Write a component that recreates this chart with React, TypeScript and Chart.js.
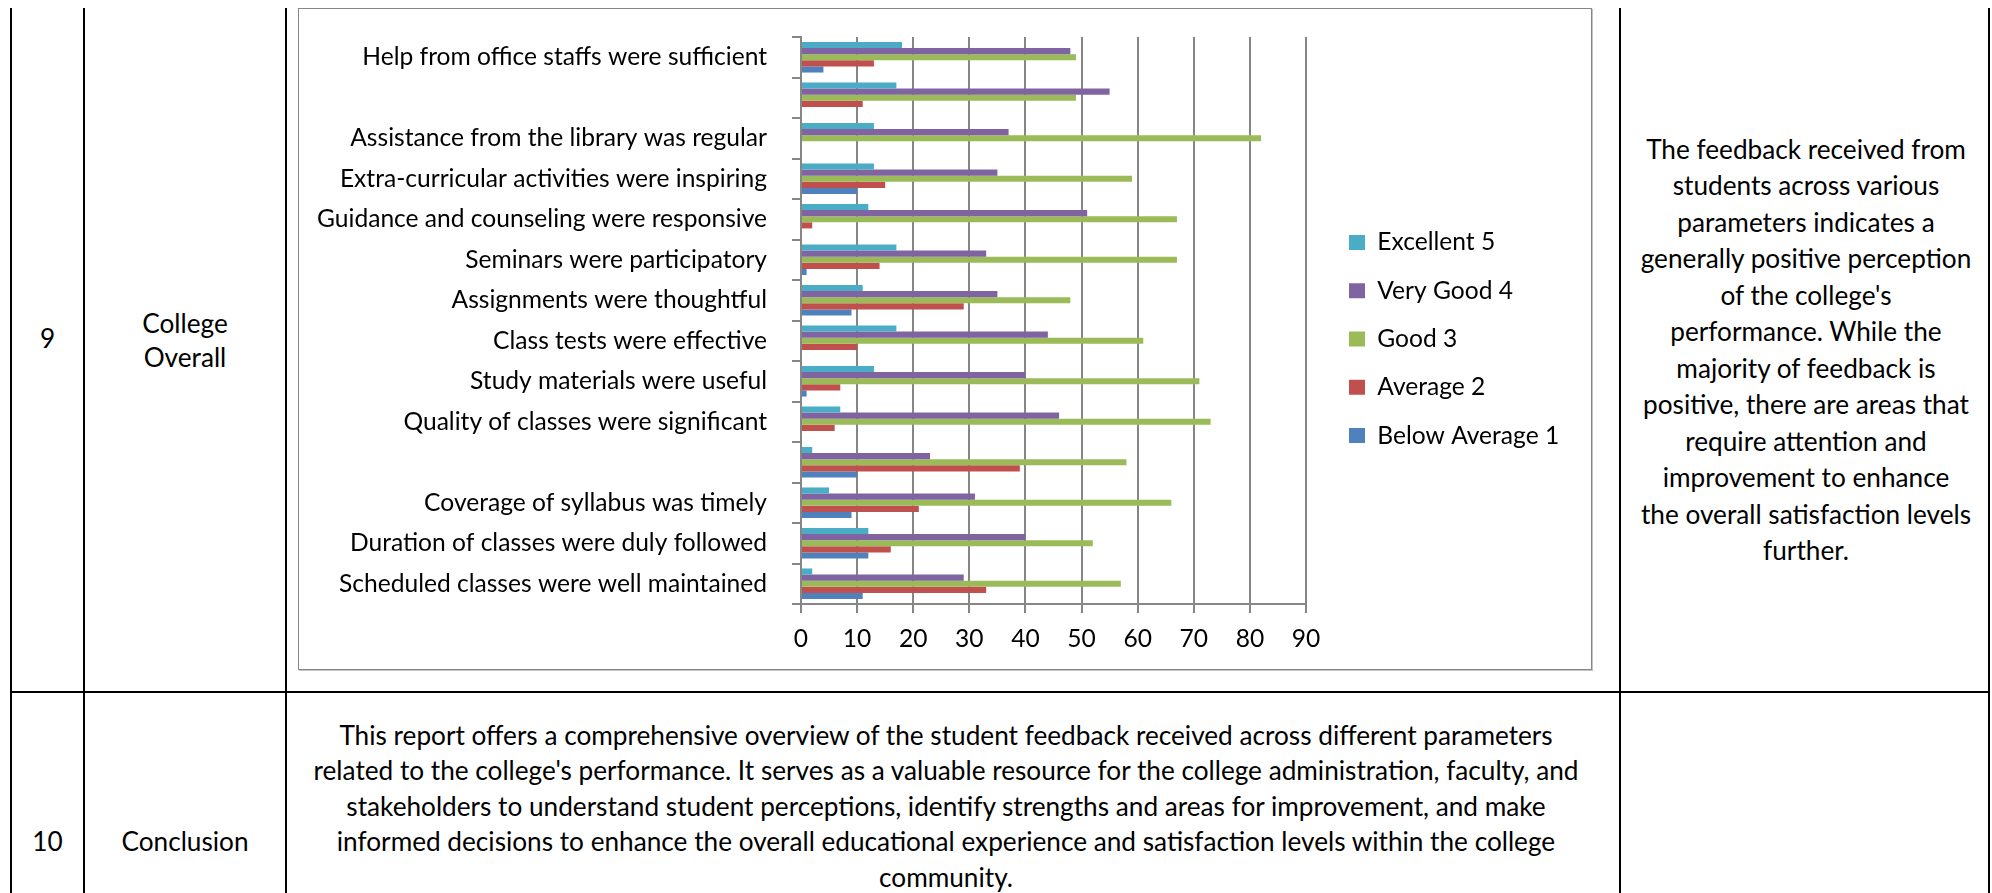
import React, { useEffect, useMemo, useRef } from 'react';
import { Chart, registerables } from 'chart.js';

Chart.register(...registerables);

// ---------------- data ----------------
const categories = [
  'Help from office staffs were sufficient',
  '',
  'Assistance from the library was regular',
  'Extra-curricular activities were inspiring',
  'Guidance and counseling were responsive',
  'Seminars were participatory',
  'Assignments were thoughtful',
  'Class tests were effective',
  'Study materials were useful',
  'Quality of classes were significant',
  '',
  'Coverage of syllabus was timely',
  'Duration of classes were duly followed',
  'Scheduled classes were well maintained',
];

const excellent5 = [18, 17, 13, 13, 12, 17, 11, 17, 13, 7, 2, 5, 12, 2];
const veryGood4 = [48, 55, 37, 35, 51, 33, 35, 44, 40, 46, 23, 31, 40, 29];
const good3 = [49, 49, 82, 59, 67, 67, 48, 61, 71, 73, 58, 66, 52, 57];
const average2 = [13, 11, 0, 15, 2, 14, 29, 10, 7, 6, 39, 21, 16, 33];
const belowAverage1 = [4, 0, 0, 10, 0, 1, 9, 0, 1, 0, 10, 9, 12, 11];

const seriesNames = ['Excellent 5', 'Very Good 4', 'Good 3', 'Average 2', 'Below Average 1'];
const seriesColors = ['#4BACC6', '#8064A2', '#9BBB59', '#C0504D', '#4F81BD'];

const xAxisMin = 0;
const xAxisMax = 90;
const xAxisStep = 10;

const rowNumbers = ['9', '10'];
const rowTitles = [['College', 'Overall'], ['Conclusion']];
const observationLines = [
  'The feedback received from',
  'students across various',
  'parameters indicates a',
  'generally positive perception',
  "of the college's",
  'performance. While the',
  'majority of feedback is',
  'positive, there are areas that',
  'require attention and',
  'improvement to enhance',
  'the overall satisfaction levels',
  'further.',
];
const conclusionLines = [
  'This report offers a comprehensive overview of the student feedback received across different parameters',
  "related to the college's performance. It serves as a valuable resource for the college administration, faculty, and",
  'stakeholders to understand student perceptions, identify strengths and areas for improvement, and make',
  'informed decisions to enhance the overall educational experience and satisfaction levels within the college',
  'community.',
];

// ---------------- layout / style ----------------
const FONT_FAMILY = 'Lato, "Open Sans", sans-serif';
const AXIS_GRAY = '#868686';

const BOX_LEFT = 298;
const BOX_TOP = 8;
const BOX_W = 1294;
const BOX_H = 662;
const CANVAS_W = BOX_W - 2;
const CANVAS_H = BOX_H - 2;

const PLOT_LEFT = 502;
const PLOT_RIGHT = 1007;
const PLOT_TOP = 28;
const PLOT_BOTTOM = 595;
const LEGEND_BOX_X = 1050;
const LEGEND_PITCH = 48.3;

const V_LINES = [11, 84, 286, 1620, 1989];
const TABLE_TOP = 8;
const ROW_LINE_Y = 692;

function fitFontSize(sample: string, target: number): number {
  const ctx = document.createElement('canvas').getContext('2d');
  if (!ctx) return 24;
  ctx.font = `100px ${FONT_FAMILY}`;
  const w = ctx.measureText(sample).width;
  return w > 0 ? (100 * target) / w : 24;
}

function TextLine({ text, cx, cy, size }: { text: string; cx: number; cy: number; size: number }) {
  return (
    <div
      style={{
        position: 'absolute',
        left: cx - 800,
        width: 1600,
        top: cy - 0.667 * size,
        lineHeight: `${1.2 * size}px`,
        fontSize: size,
        fontFamily: FONT_FAMILY,
        color: '#000',
        textAlign: 'center',
        whiteSpace: 'nowrap',
      }}
    >
      {text}
    </div>
  );
}

function FeedbackChart({ fontSize }: { fontSize: number }) {
  const ref = useRef<HTMLCanvasElement>(null);

  useEffect(() => {
    const canvas = ref.current;
    if (!canvas) return;
    const font = { family: FONT_FAMILY, size: fontSize };
    const legendPad = LEGEND_PITCH - fontSize;

    const legendPlacer = {
      id: 'legendPlacer',
      beforeLayout(chart: any) {
        const lg = chart.legend;
        if (lg && !lg._fitPatched) {
          const orig = lg.fit;
          lg.fit = function (this: any) {
            orig.call(this);
            this.width = CANVAS_W - PLOT_RIGHT;
          };
          lg._fitPatched = true;
        }
      },
      afterLayout(chart: any) {
        const lg = chart.legend;
        if (lg) {
          lg.left = LEGEND_BOX_X - legendPad;
          lg.right = CANVAS_W;
          lg.top = 0;
          lg.bottom = CANVAS_H;
        }
      },
    };

    const values = [excellent5, veryGood4, good3, average2, belowAverage1];

    const chart = new Chart(canvas, {
      type: 'bar',
      data: {
        labels: categories,
        datasets: values.map((v, i) => ({
          label: seriesNames[i],
          data: v,
          backgroundColor: seriesColors[i],
          borderWidth: 0,
          categoryPercentage: 0.755,
          barPercentage: 1,
        })),
      },
      options: {
        indexAxis: 'y',
        animation: false,
        responsive: false,
        maintainAspectRatio: false,
        layout: { padding: { top: PLOT_TOP, left: 0, right: 0, bottom: 0 } },
        scales: {
          x: {
            type: 'linear',
            min: xAxisMin,
            max: xAxisMax,
            ticks: { stepSize: xAxisStep, font, color: '#000', padding: 11 },
            grid: { color: AXIS_GRAY, lineWidth: 2, tickLength: 9, drawTicks: true },
            border: { color: AXIS_GRAY, width: 2 },
            afterFit: (s: any) => {
              s.height = CANVAS_H - PLOT_BOTTOM;
              s.paddingLeft = 0;
              s.paddingRight = 0;
            },
          },
          y: {
            type: 'category',
            offset: true,
            ticks: { autoSkip: false, font, color: '#000', padding: 25 },
            grid: { drawOnChartArea: false, color: AXIS_GRAY, lineWidth: 2, tickLength: 9, offset: true },
            border: { color: AXIS_GRAY, width: 2 },
            afterFit: (s: any) => {
              s.width = PLOT_LEFT;
              s.paddingTop = 0;
              s.paddingBottom = 0;
            },
          },
        },
        plugins: {
          legend: {
            position: 'right',
            labels: { font, color: '#000', boxWidth: 16, boxHeight: 15, padding: legendPad },
          },
          tooltip: { enabled: false },
          title: { display: false },
        },
      } as any,
      plugins: [legendPlacer],
    });
    return () => chart.destroy();
  }, [fontSize]);

  return (
    <canvas
      ref={ref}
      width={CANVAS_W}
      height={CANVAS_H}
      style={{ position: 'absolute', left: 0, top: 0, width: CANVAS_W, height: CANVAS_H }}
    />
  );
}

export default function App() {
  const chartFont = useMemo(() => fitFontSize('Help from office staffs were sufficient', 405), []);
  const tableFont = useMemo(() => fitFontSize('The feedback received from', 320), []);
  const titleCx = (V_LINES[1] + V_LINES[2]) / 2;

  return (
    <div
      style={{
        position: 'absolute',
        left: 0,
        top: 0,
        width: 1992,
        height: 893,
        overflow: 'hidden',
        background: '#fff',
      }}
    >
      {V_LINES.map((x, i) => (
        <div
          key={'v' + i}
          style={{ position: 'absolute', left: x - 1, top: TABLE_TOP, width: 2, height: 893 - TABLE_TOP, background: '#000' }}
        />
      ))}
      <div
        style={{
          position: 'absolute',
          left: V_LINES[0] - 1,
          top: ROW_LINE_Y - 1,
          width: V_LINES[V_LINES.length - 1] - V_LINES[0] + 2,
          height: 2,
          background: '#000',
        }}
      />

      {/* row 9 */}
      <TextLine text={rowNumbers[0]} cx={47.5} cy={340} size={tableFont} />
      <TextLine text={rowTitles[0][0]} cx={titleCx} cy={325} size={tableFont} />
      <TextLine text={rowTitles[0][1]} cx={titleCx} cy={359} size={tableFont} />
      {observationLines.map((t, i) => (
        <TextLine key={'o' + i} text={t} cx={1806} cy={151 + i * 36.5} size={tableFont} />
      ))}

      {/* row 10 */}
      <TextLine text={rowNumbers[1]} cx={47.5} cy={843} size={tableFont} />
      <TextLine text={rowTitles[1][0]} cx={titleCx} cy={843} size={tableFont} />
      {conclusionLines.map((t, i) => (
        <TextLine key={'c' + i} text={t} cx={946} cy={737 + i * 35.5} size={tableFont} />
      ))}

      {/* chart box */}
      <div
        style={{
          position: 'absolute',
          left: BOX_LEFT,
          top: BOX_TOP,
          width: BOX_W,
          height: BOX_H,
          boxSizing: 'border-box',
          border: `1px solid ${AXIS_GRAY}`,
          boxShadow: '1px 1px 0 #c4c4c4',
          background: '#fff',
        }}
      >
        <div style={{ position: 'absolute', left: 0, top: 0, width: CANVAS_W, height: CANVAS_H }}>
          <FeedbackChart fontSize={chartFont} />
        </div>
      </div>
    </div>
  );
}
